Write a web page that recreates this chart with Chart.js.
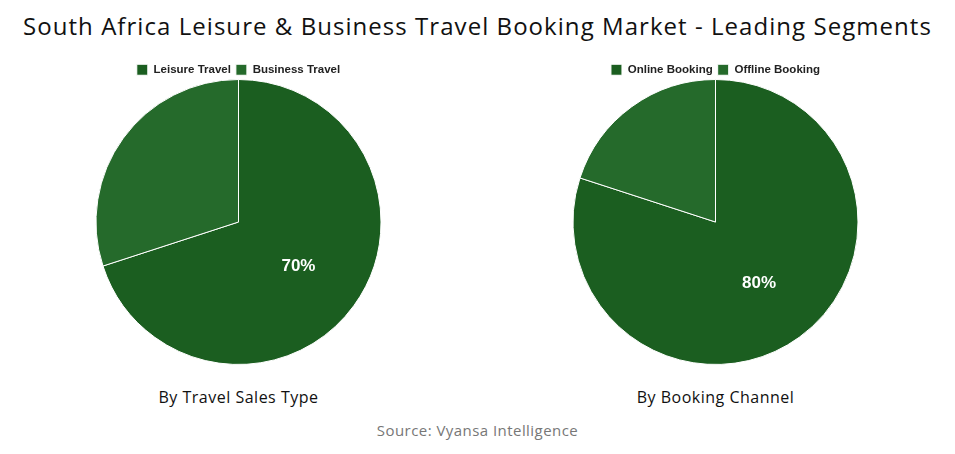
<!DOCTYPE html>
<html><head><meta charset="utf-8">
<script src="https://cdn.jsdelivr.net/npm/chart.js@4/dist/chart.umd.min.js"></script>
<style>
html,body{margin:0;padding:0;background:#fff;width:955px;height:454px;overflow:hidden;font-family:"Open Sans",sans-serif;}
#title{position:absolute;left:0;top:9px;width:955px;text-align:center;font-size:24px;letter-spacing:1.05px;color:#111;}
.box{position:absolute;top:59px;width:477px;height:320px;}
.sub{position:absolute;top:386px;width:477px;text-align:center;font-size:16px;letter-spacing:0.5px;color:#111;}
#src{position:absolute;left:0;top:420px;width:955px;text-align:center;font-size:15px;letter-spacing:0.45px;color:#777;}
</style></head>
<body>
<div id="title">South Africa Leisure &amp; Business Travel Booking Market - Leading Segments</div>
<div class="box" style="left:0"><canvas id="c1"></canvas></div>
<div class="box" style="left:477px"><canvas id="c2"></canvas></div>
<div class="sub" style="left:0">By Travel Sales Type</div>
<div class="sub" style="left:477px">By Booking Channel</div>
<div id="src">Source: Vyansa Intelligence</div>
<script>
const salesTypeLabels = ["Leisure Travel", "Business Travel"];
const salesTypeValues = [70, 30];
const channelLabels = ["Online Booking", "Offline Booking"];
const channelValues = [80, 20];
const sliceColors = ["#1b5e20", "#256a2b"];

const labelPlugin = {
  id: 'bigLabel',
  afterDatasetsDraw(chart) {
    const ctx = chart.ctx;
    const meta = chart.getDatasetMeta(0);
    const data = chart.data.datasets[0].data;
    meta.data.forEach((arc, i) => {
      if (data[i] < 50) return;
      const mid = (arc.startAngle + arc.endAngle) / 2;
      const r = arc.outerRadius * 0.52;
      const x = arc.x + Math.cos(mid) * r;
      const y = arc.y + Math.sin(mid) * r;
      ctx.save();
      ctx.fillStyle = '#fff';
      ctx.font = 'bold 17px "Liberation Sans", Arial, sans-serif';
      ctx.textAlign = 'center';
      ctx.textBaseline = 'middle';
      ctx.fillText(data[i] + '%', x, y + 1);
      ctx.restore();
    });
  }
};

// shrink the legend's reserved height so the pie sits close to it
const legendFit = {
  id: 'legendFit',
  afterInit(chart) {
    const lg = chart.legend;
    const orig = lg.fit;
    lg.fit = function () { orig.call(this); this.height = 20; };
  }
};

function makePie(id, labels, values) {
  new Chart(document.getElementById(id), {
    type: 'pie',
    data: { labels: labels, datasets: [{ data: values, backgroundColor: sliceColors, borderColor: '#ffffff', borderWidth: 1 }] },
    options: {
      responsive: true, maintainAspectRatio: false, animation: false,
      layout: { padding: { top: 0, bottom: 14 } },
      plugins: {
        legend: { position: 'top', labels: { boxWidth: 11, boxHeight: 11, padding: 5, color: '#222', font: { family: '"Liberation Sans", Arial, sans-serif', size: 11.5, weight: 'bold' } } },
        tooltip: { enabled: false }
      }
    },
    plugins: [legendFit, labelPlugin]
  });
}
makePie('c1', salesTypeLabels, salesTypeValues);
makePie('c2', channelLabels, channelValues);
</script>
</body></html>
